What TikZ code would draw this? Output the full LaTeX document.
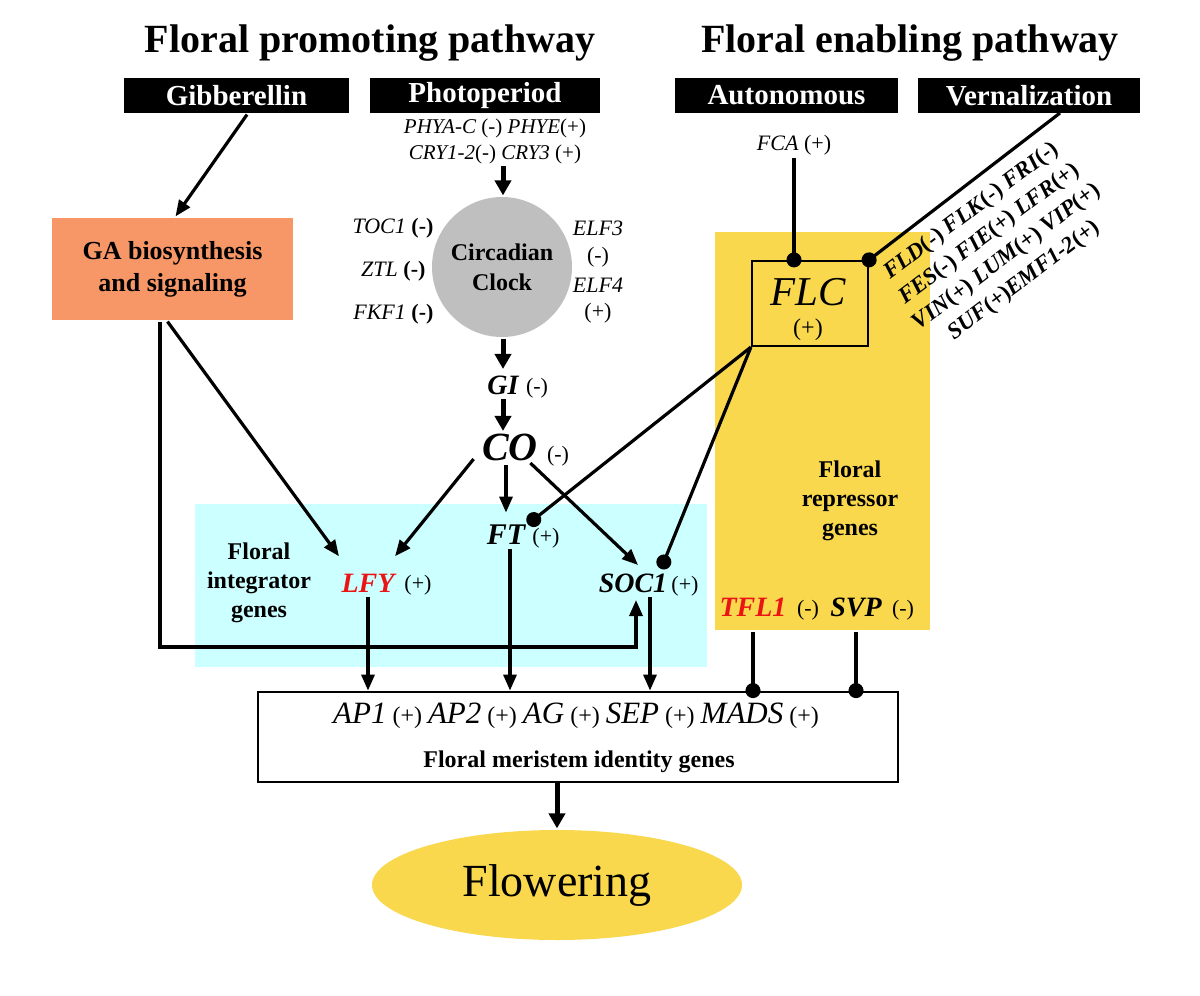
\documentclass[tikz,border=0pt]{standalone}
\usepackage{fontspec}
\setmainfont{Liberation Serif}
\usetikzlibrary{arrows.meta,shapes.geometric}
\definecolor{ylw}{RGB}{249,216,78}
\definecolor{cyn}{RGB}{204,255,255}
\definecolor{org}{RGB}{247,150,102}
\definecolor{gry}{RGB}{191,191,191}
\definecolor{redg}{RGB}{235,20,20}
\begin{document}
\begin{tikzpicture}[x=1pt,y=-1pt,line width=3.2pt,
  arr/.style={-{Triangle[length=16pt,width=13pt]}},
  thk/.style={line width=5pt,-{Triangle[length=15pt,width=16pt]}},
  dot/.style={-{Circle[length=15pt]},shorten >=-7.5pt},
  blk/.style={fill=black,text=white,font=\bfseries\fontsize{29}{30}\selectfont,minimum height=35pt,inner sep=0pt},
  ttl/.style={font=\bfseries\fontsize{40}{44}\selectfont},
  gn/.style={font=\bfseries\itshape\fontsize{28}{30}\selectfont,inner sep=3pt},
  pm/.style={font=\fontsize{22}{24}\selectfont,inner sep=1pt},
  sm/.style={font=\fontsize{22}{24}\selectfont,inner sep=1pt},
  lab/.style={font=\bfseries\fontsize{24}{29}\selectfont,align=center},
  area/.style={inner sep=0pt,draw=none}
]
\fill[white] (0,0) rectangle (1200,996);
\useasboundingbox (0,0) rectangle (1200,996);

% titles
\node[ttl] (t1) at (370,43) {Floral promoting pathway};
\node[ttl] (t2) at (910,43) {Floral enabling pathway};
\node[blk,minimum width=225pt] (gib) at (236.5,95.5) {Gibberellin};
\node[blk,minimum width=230pt] (pho) at (485,95.5) {Photoperiod};
\node[blk,minimum width=223pt] (aut) at (786.5,95.5) {Autonomous};
\node[blk,minimum width=222pt] (ver) at (1029,95.5) {Vernalization};

% background areas
\node[area,fill=cyn,minimum width=512pt,minimum height=163pt] (int) at (451,585.5) {};
\node[area,fill=ylw,minimum width=215pt,minimum height=398pt] (rep) at (822.5,431) {};

% photoperiod
\node[font=\fontsize{21}{26}\selectfont,align=center,inner sep=1pt] (phy) at (495,141)
  {\textit{PHYA-C} (-) \textit{PHYE}(+)\\\textit{CRY1-2}(-) \textit{CRY3} (+)};
\node[circle,fill=gry,minimum size=140pt,inner sep=0pt,align=center,
  font=\bfseries\fontsize{24}{30}\selectfont] (clk) at (502,267) {Circadian\\Clock};
\node[sm,anchor=east] (toc) at (436,228) {\textit{TOC1} \textbf{(-)}};
\node[sm,anchor=east] (ztl) at (428,271) {\textit{ZTL} \textbf{(-)}};
\node[sm,anchor=east] (fkf) at (436,314) {\textit{FKF1} \textbf{(-)}};
\node[sm] (elf3) at (598,228) {\textit{ELF3}};
\node[sm] (elf3m) at (598,257) {(-)};
\node[sm] (elf4) at (598,285) {\textit{ELF4}};
\node[sm] (elf4p) at (598,313) {(+)};

\node[gn] (gi) at (503,385) {GI};
\node[pm] (gim) at (537,388) {(-)};
\node[gn,font=\bfseries\itshape\fontsize{40}{42}\selectfont] (co) at (510,447) {CO};
\node[pm] (com) at (558,456) {(-)};

% GA
\node[area,fill=org,minimum width=241pt,minimum height=102pt,
  font=\bfseries\fontsize{26}{32}\selectfont,align=center] (ga) at (172.5,269) {GA biosynthesis\\and signaling};

% integrators
\node[lab] (intl) at (259,583) {Floral\\integrator\\genes};
\node[gn,text=redg] (lfy) at (368,583) {LFY};
\node[pm] (lfyp) at (418,585) {(+)};
\node[gn,font=\bfseries\itshape\fontsize{30}{32}\selectfont] (ft) at (506,535) {FT};
\node[pm] (ftp) at (546,538) {(+)};
\node[gn] (soc) at (633,583) {SOC1};
\node[pm] (socp) at (685,586) {(+)};

% enabling
\node[sm] (fca) at (794,145) {\textit{FCA} (+)};
\node[draw,fill=ylw,line width=2.2pt,minimum width=116pt,minimum height=85pt,inner sep=0pt] (flc) at (810,303.5) {};
\node[font=\itshape\fontsize{41}{42}\selectfont] (flct) at (808,292) {FLC};
\node[font=\fontsize{24}{26}\selectfont] (flcp) at (808,330) {(+)};
\node[rotate=37,align=center,font=\bfseries\itshape\fontsize{23}{29}\selectfont,inner sep=0pt] (vtx) at (998,246)
  {FLD\textup{(-)} FLK\textup{(-)} FRI\textup{(-)}\\FES\textup{(-)} FIE\textup{(+)} LFR\textup{(+)}\\VIN\textup{(+)} LUM\textup{(+)} VIP\textup{(+)}\\SUF\textup{(+)}EMF1-2\textup{(+)}};
\coordinate (vl) at (1060,113);

\node[lab] (repl) at (850,501) {Floral\\repressor\\genes};
\node[gn,text=redg] (tfl) at (753,607) {TFL1};
\node[pm] (tflm) at (808,610) {(-)};
\node[gn] (svp) at (856,607) {SVP};
\node[pm] (svpm) at (903,610) {(-)};

% bottom
\node[draw,line width=2.8pt,minimum width=640pt,minimum height=90pt,inner sep=0pt] (fmi) at (578,737) {};
\node[font=\fontsize{24}{25}\selectfont] (apl) at (576,716)
  {{\fontsize{31}{31}\selectfont\itshape AP1} (+) {\fontsize{31}{31}\selectfont\itshape AP2} (+) {\fontsize{31}{31}\selectfont\itshape AG} (+) {\fontsize{31}{31}\selectfont\itshape SEP} (+) {\fontsize{31}{31}\selectfont\itshape MADS} (+)};
\node[font=\bfseries\fontsize{24}{26}\selectfont] (fmil) at (579,762) {Floral meristem identity genes};
\node[ellipse,fill=ylw,minimum width=370pt,minimum height=110pt,inner sep=0pt,
  font=\fontsize{46}{48}\selectfont] (flw) at (557,885) {Flowering};

% connectors
\draw[arr] ([xshift=10.5pt]gib.south) -- ([xshift=3pt]ga.north);
\draw[thk] (phy.south -| gi) -- (clk.north -| gi);
\draw[thk] (clk.south -| gi) -- ([yshift=2pt]gi.north);
\draw[thk] (gi.south) -- ([yshift=-2pt]co.north -| gi);
\draw[arr] ([xshift=-5pt]ga.south) -- ([xshift=2pt,yshift=13pt]lfy.north west);
\draw[arr] ([xshift=-12.5pt]ga.south) |- ([xshift=3pt,yshift=-50pt]soc.south) -- ([xshift=3pt,yshift=-3pt]soc.south);
\draw[arr] ([xshift=-4pt,yshift=6pt]co.south west) -- ([xshift=-4pt,yshift=13pt]lfy.north east);
\draw[arr] (co.south -| ft.north) -- ([yshift=8pt]ft.north);
\draw[arr] ([xshift=-12pt,yshift=2pt]co.south east) -- ([xshift=5pt,yshift=4pt]soc.north);
\draw[dot] (flc.south west) -- ([xshift=4pt,yshift=1pt]ft.north east);
\draw[dot] (flc.south west) -- ([xshift=-8pt,yshift=7pt]soc.north east);
\draw[dot] (fca.south) -- (fca.south |- flc.north);
\draw[dot] (vl) -- (flc.north east);
\draw[arr] (lfy.south) -- (lfy.south |- fmi.north);
\draw[arr] ([xshift=4pt]ft.south) -- ([xshift=4pt]ft.south |- fmi.north);
\draw[arr] ([xshift=17pt]soc.south) -- ([xshift=17pt]soc.south |- fmi.north);
\draw[dot] (tfl.south |- rep.south) -- (tfl.south |- fmi.north);
\draw[dot] (svp.south |- rep.south) -- (svp.south |- fmi.north);
\draw[thk] (fmi.south -| flw.north) -- (flw.north);
\end{tikzpicture}
\end{document}
